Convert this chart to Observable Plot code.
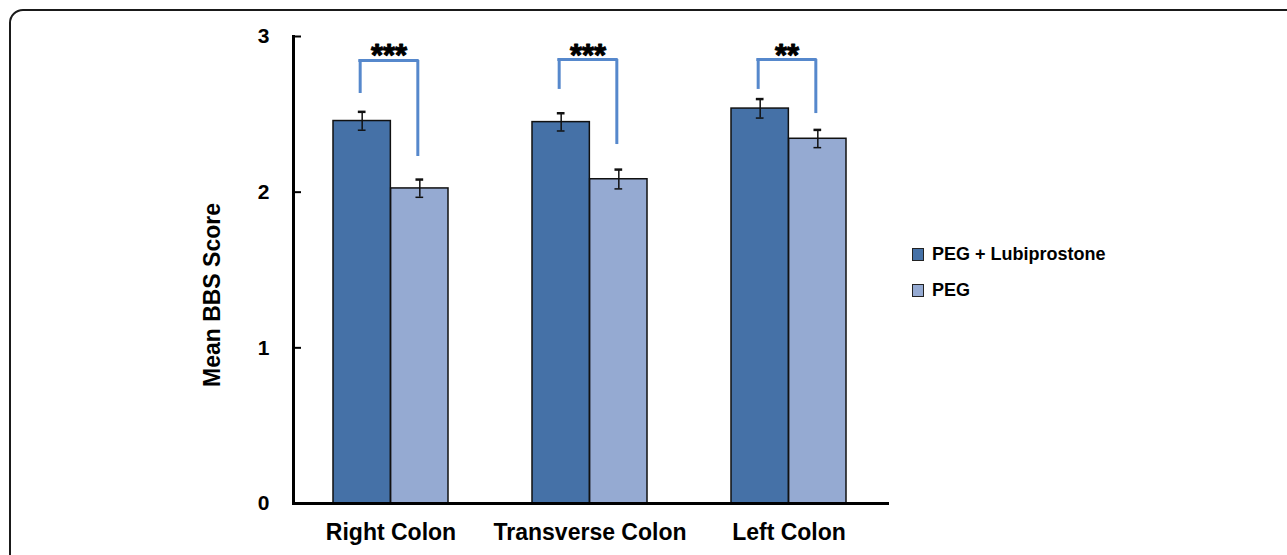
<!DOCTYPE html>
<html>
<head>
<meta charset="utf-8">
<script src="https://cdn.jsdelivr.net/npm/d3@7"></script>
<script src="https://cdn.jsdelivr.net/npm/@observablehq/plot@0.6"></script>
<style>
  html, body { margin: 0; padding: 0; background: #fff; }
  #wrap { position: relative; width: 1287px; height: 555px; overflow: hidden; background: #fff; }
  #border { position: absolute; left: 9px; top: 9px; width: 1400px; height: 700px; border: 2px solid #1a1a1a; border-radius: 14px; box-sizing: border-box; }
  #chart { position: absolute; left: 0; top: 0; }
  .legend { position: absolute; left: 912px; font-family: "Liberation Sans", Arial, sans-serif; font-weight: bold; font-size: 18px; color: #000; }
  .legend .item { position: absolute; left: 0; white-space: nowrap; display: flex; align-items: center; height: 20px; }
  .legend .sw { width: 10px; height: 11px; border: 1px solid #222; margin-right: 8px; }
</style>
</head>
<body>
<div id="wrap">
  <div id="border"></div>
  <div id="chart"></div>
  <div class="legend" id="legend"></div>
</div>
<script>
// ---- data ----
const categories = ["Right Colon", "Transverse Colon", "Left Colon"];
const series = ["PEG + Lubiprostone", "PEG"];
const lubiMean = [2.457, 2.450, 2.537];
const lubiErr = [0.059, 0.057, 0.061];
const pegMean = [2.024, 2.083, 2.343];
const pegErr = [0.057, 0.062, 0.057];
const stars = ["***", "***", "**"];
const bracketTop = [2.846, 2.852, 2.852];
const bracketLeftEnd = [2.634, 2.660, 2.660];
const bracketRightEnd = [2.229, 2.306, 2.505];
const yTicks = [0, 1, 2, 3];

const colors = ["#4571A7", "#95AAD2"];
const bracketColor = "#5688CC";

const rows = categories.map((c, i) => ({
  category: c,
  lubi: lubiMean[i], lubiErr: lubiErr[i],
  peg: pegMean[i], pegErr: pegErr[i],
  stars: stars[i],
  top: bracketTop[i], leftEnd: bracketLeftEnd[i], rightEnd: bracketRightEnd[i]
}));

// ---- layout ----
const W = 1287, H = 555;
const mL = 293, mR = 400, mT = 36, mB = 52;
const pIn = 0.422, pOut = 0.2;
const plotW = W - mL - mR;
const step = plotW / (categories.length - pIn + 2 * pOut);
const bw = step * (1 - pIn);
const q = bw / 4;
const legOff = 2;
const font = "'Liberation Sans', Arial, sans-serif";

const chart = Plot.plot({
  width: W,
  height: H,
  marginLeft: mL, marginRight: mR, marginTop: mT, marginBottom: mB,
  style: { fontFamily: font, fontWeight: "bold", background: "transparent", color: "#000" },
  x: { type: "band", domain: categories, paddingInner: pIn, paddingOuter: pOut, label: null },
  y: { domain: [0, 3], label: null },
  marks: [
    // bars
    Plot.barY(rows, { x: "category", y: "lubi", fill: colors[0], stroke: "#111", strokeWidth: 1.5, insetRight: bw / 2 }),
    Plot.barY(rows, { x: "category", y: "peg", fill: colors[1], stroke: "#111", strokeWidth: 1.5, insetLeft: bw / 2 }),
    // error bars
    Plot.ruleX(rows, { x: "category", y1: d => d.lubi - d.lubiErr, y2: d => d.lubi + d.lubiErr, dx: -q, stroke: "#111", strokeWidth: 1.5 }),
    Plot.ruleX(rows, { x: "category", y1: d => d.peg - d.pegErr, y2: d => d.peg + d.pegErr, dx: q, stroke: "#111", strokeWidth: 1.5 }),
    Plot.tickY(rows, { x: "category", y: d => d.lubi + d.lubiErr, dx: -q, insetLeft: bw / 2 - 4, insetRight: bw / 2 - 4, stroke: "#111", strokeWidth: 2.5 }),
    Plot.tickY(rows, { x: "category", y: d => d.lubi - d.lubiErr, dx: -q, insetLeft: bw / 2 - 4, insetRight: bw / 2 - 4, stroke: "#111", strokeWidth: 1.5 }),
    Plot.tickY(rows, { x: "category", y: d => d.peg + d.pegErr, dx: q, insetLeft: bw / 2 - 4, insetRight: bw / 2 - 4, stroke: "#111", strokeWidth: 2.5 }),
    Plot.tickY(rows, { x: "category", y: d => d.peg - d.pegErr, dx: q, insetLeft: bw / 2 - 4, insetRight: bw / 2 - 4, stroke: "#111", strokeWidth: 1.5 }),
    // significance brackets
    Plot.tickY(rows, { x: "category", y: "top", insetLeft: q - legOff, insetRight: q + legOff, stroke: bracketColor, strokeWidth: 3, strokeLinecap: "square" }),
    Plot.ruleX(rows, { x: "category", y1: "leftEnd", y2: "top", dx: -q - legOff, stroke: bracketColor, strokeWidth: 3 }),
    Plot.ruleX(rows, { x: "category", y1: "rightEnd", y2: "top", dx: q - legOff, stroke: bracketColor, strokeWidth: 3 }),
    Plot.text(rows, { x: "category", y: "top", text: "stars", fontSize: 31, fontWeight: "bold", lineAnchor: "bottom", dy: 6, dx: -legOff, fill: "#000", stroke: "#000", strokeWidth: 1 }),
    // axes
    Plot.frame({ anchor: "left", stroke: "#000", strokeWidth: 3 }),
    Plot.frame({ anchor: "bottom", stroke: "#000", strokeWidth: 3 }),
    Plot.tickY(yTicks, { y: d => d, insetRight: plotW - 8, stroke: "#000", strokeWidth: 2 }),
    Plot.axisY({ ticks: yTicks, tickFormat: d => String(d), tickSize: 0, tickPadding: 24, fontSize: 21, label: null }),
    Plot.axisX({ tickSize: 0, tickPadding: 20, fontSize: 23, label: null }),
    Plot.text(["Mean BBS Score"], { frameAnchor: "left", text: d => d, rotate: -90, textAnchor: "middle", dx: -81, dy: 25, fontSize: 23, fontWeight: "bold", fill: "#000" })
  ]
});
document.getElementById("chart").appendChild(chart);

// legend
const legend = document.getElementById("legend");
const legendTops = [244, 280];
series.forEach((s, i) => {
  const item = document.createElement("div");
  item.className = "item";
  item.style.top = legendTops[i] + "px";
  const sw = document.createElement("span");
  sw.className = "sw";
  sw.style.background = colors[i];
  const t = document.createElement("span");
  t.textContent = s;
  item.appendChild(sw);
  item.appendChild(t);
  legend.appendChild(item);
});
</script>
</body>
</html>
